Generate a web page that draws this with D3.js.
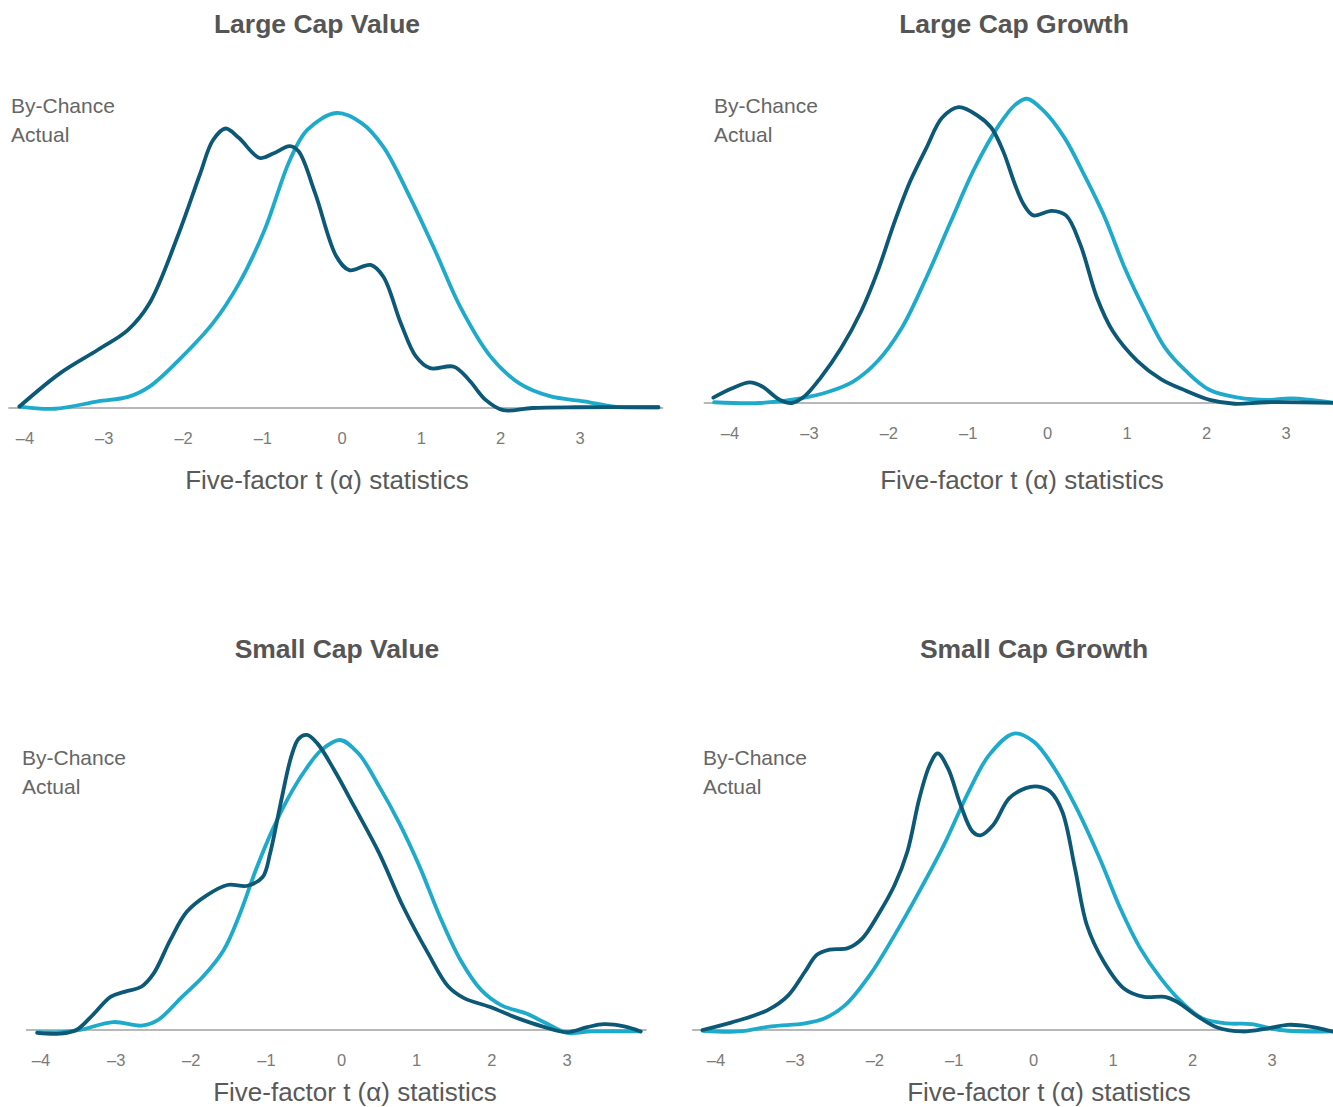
<!DOCTYPE html>
<html lang="en">
<head>
  <meta charset="UTF-8" />
  <title>Five-factor t(alpha) distributions</title>
  <style>
    body { margin: 0; background: #fff; }
    svg { display: block; }
    .title { font-family: "Liberation Sans", Arial, sans-serif; font-weight: bold; font-size: 26.5px; fill: #555; text-anchor: middle; }
    .legend { font-family: "Liberation Sans", Arial, sans-serif; font-size: 21px; fill: #666; }
    .tick { font-family: "Liberation Sans Narrow", "Liberation Sans", sans-serif; font-size: 16.5px; fill: #7a7a7a; text-anchor: middle; }
    .xtitle { font-family: "Liberation Sans Narrow", "Liberation Sans", sans-serif; font-size: 26px; fill: #595959; text-anchor: middle; }
    .baseline { stroke: #a0a0a0; stroke-width: 1.5; }
    .line { fill: none; stroke-width: 3.8; stroke-linejoin: round; stroke-linecap: round; }
  </style>
</head>
<body>
  <svg width="1333" height="1107"></svg>

  <script src="https://cdn.jsdelivr.net/npm/d3@7"></script>
  <script>
    // tick labels on every x axis
    const tickValues = [-4, -3, -2, -1, 0, 1, 2, 3];
    const panelTitles = ["Large Cap Value", "Large Cap Growth", "Small Cap Value", "Small Cap Growth"];
    const legendLabels = ["By-Chance", "Actual"];
    const xLabel = "Five-factor t (\u03b1) statistics";

    // [t statistic, density]
    const lcvChance = [[-4.07,0.002],[-3.62,-0.001],[-3.08,0.009],[-2.7,0.015],[-2.43,0.029],[-2.06,0.065],[-1.63,0.115],[-1.3,0.169],[-0.98,0.241],[-0.66,0.336],[-0.44,0.377],[-0.07,0.4],[0.25,0.386],[0.52,0.354],[0.85,0.287],[1.17,0.214],[1.49,0.137],[1.87,0.07],[2.24,0.033],[2.62,0.016],[3.05,0.009],[3.43,0.002],[3.99,0.001]];
    const lcvActual = [[-4.07,0.002],[-3.56,0.047],[-3.08,0.079],[-2.7,0.106],[-2.43,0.142],[-2.06,0.237],[-1.79,0.318],[-1.63,0.363],[-1.47,0.379],[-1.3,0.366],[-1.04,0.339],[-0.87,0.345],[-0.66,0.355],[-0.55,0.348],[-0.34,0.291],[-0.07,0.205],[0.09,0.187],[0.36,0.194],[0.52,0.178],[0.74,0.115],[0.93,0.07],[1.11,0.054],[1.41,0.056],[1.6,0.038],[1.81,0.011],[2.03,-0.003],[2.4,0],[2.94,0.001],[3.99,0.001]];

    const lcgChance = [[-4.2,0.001],[-3.62,0],[-3.11,0.006],[-2.75,0.015],[-2.45,0.028],[-2.14,0.055],[-1.84,0.098],[-1.53,0.164],[-1.22,0.238],[-0.92,0.308],[-0.61,0.365],[-0.41,0.391],[-0.26,0.399],[-0.05,0.383],[0.21,0.348],[0.46,0.299],[0.72,0.243],[0.97,0.177],[1.23,0.12],[1.48,0.072],[1.74,0.042],[2.04,0.017],[2.4,0.007],[2.76,0.004],[3.07,0.006],[3.62,0]];
    const lcgActual = [[-4.21,0.007],[-3.98,0.019],[-3.75,0.027],[-3.6,0.022],[-3.37,0.004],[-3.22,0],[-3.06,0.009],[-2.86,0.033],[-2.6,0.072],[-2.35,0.12],[-2.14,0.173],[-1.94,0.234],[-1.73,0.291],[-1.53,0.334],[-1.33,0.374],[-1.12,0.388],[-0.87,0.376],[-0.71,0.361],[-0.56,0.33],[-0.41,0.286],[-0.3,0.26],[-0.18,0.246],[0.05,0.252],[0.23,0.246],[0.41,0.208],[0.62,0.138],[0.82,0.094],[1.13,0.055],[1.43,0.031],[1.74,0.016],[2.04,0.004],[2.35,-0.001],[2.76,0.001],[3.62,0]];

    const scvChance = [[-4.05,-0.003],[-3.75,-0.003],[-3.48,0],[-3.04,0.011],[-2.66,0.006],[-2.44,0.014],[-2.12,0.046],[-1.84,0.074],[-1.57,0.11],[-1.35,0.161],[-1.14,0.221],[-0.92,0.276],[-0.7,0.322],[-0.48,0.359],[-0.27,0.386],[-0.02,0.4],[0.22,0.382],[0.5,0.336],[0.77,0.285],[1.04,0.225],[1.31,0.156],[1.58,0.097],[1.86,0.055],[2.13,0.034],[2.45,0.023],[2.73,0.009],[3.0,-0.004],[3.33,-0.002],[3.98,-0.002]];
    const scvActual = [[-4.05,-0.004],[-3.75,-0.005],[-3.53,0],[-3.31,0.021],[-3.07,0.046],[-2.88,0.053],[-2.66,0.06],[-2.5,0.078],[-2.28,0.124],[-2.06,0.163],[-1.79,0.186],[-1.52,0.2],[-1.25,0.199],[-1.05,0.211],[-0.95,0.244],[-0.81,0.313],[-0.67,0.377],[-0.57,0.402],[-0.46,0.407],[-0.32,0.395],[-0.1,0.359],[0.17,0.308],[0.5,0.244],[0.82,0.17],[1.15,0.106],[1.42,0.06],[1.63,0.044],[1.97,0.032],[2.35,0.016],[2.67,0.005],[3.0,-0.003],[3.27,0.004],[3.49,0.008],[3.76,0.005],[3.98,-0.002]];

    const scgChance = [[-4.17,-0.001],[-3.71,-0.002],[-3.3,0.005],[-2.88,0.009],[-2.63,0.016],[-2.37,0.034],[-2.06,0.075],[-1.75,0.129],[-1.44,0.188],[-1.13,0.251],[-0.82,0.323],[-0.56,0.373],[-0.25,0.402],[0.0,0.391],[0.26,0.355],[0.52,0.305],[0.83,0.233],[1.09,0.165],[1.34,0.111],[1.6,0.07],[1.86,0.038],[2.12,0.016],[2.43,0.009],[2.74,0.008],[3.1,0],[3.76,-0.002]];
    const scgActual = [[-4.17,0],[-3.81,0.01],[-3.35,0.027],[-3.09,0.047],[-2.88,0.079],[-2.73,0.102],[-2.57,0.109],[-2.34,0.111],[-2.16,0.124],[-1.96,0.156],[-1.75,0.197],[-1.59,0.242],[-1.44,0.314],[-1.31,0.359],[-1.21,0.375],[-1.08,0.355],[-0.92,0.305],[-0.77,0.269],[-0.67,0.264],[-0.51,0.278],[-0.31,0.314],[-0.1,0.328],[0.06,0.33],[0.21,0.323],[0.36,0.296],[0.52,0.219],[0.67,0.142],[0.88,0.093],[1.14,0.056],[1.39,0.045],[1.65,0.045],[1.81,0.038],[2.07,0.018],[2.32,0.003],[2.63,-0.002],[2.94,0.002],[3.2,0.007],[3.46,0.005],[3.76,-0.002]];

    const chanceSeries = [lcvChance, lcgChance, scvChance, scgChance];
    const actualSeries = [lcvActual, lcgActual, scvActual, scgActual];

    const colChance = "#1eaacb";
    const colActual = "#0c5877";

    // layout of each panel (pixel positions)
    const panels = [
      { xr: [25, 580], base: 408, h: 295, axis: [-4.21, 4.05], title: [317, 24], legend: [11, 106], xt: [327, 480] },
      { xr: [730, 1286], base: 403, h: 305, axis: [-4.33, 3.7], title: [1014, 24], legend: [714, 106], xt: [1022, 480] },
      { xr: [41, 567], base: 1030, h: 290, axis: [-4.2, 4.06], title: [337, 649], legend: [22, 758], xt: [355, 1092] },
      { xr: [716, 1272], base: 1030, h: 295, axis: [-4.3, 3.8], title: [1034, 649], legend: [703, 758], xt: [1049, 1092] }
    ];

    const svg = d3.select("svg");
    const fmt = v => (v < 0 ? "\u2013" + Math.abs(v) : String(v));

    panels.forEach((p, i) => {
      const x = d3.scaleLinear().domain([-4, 3]).range(p.xr);
      const y = d3.scaleLinear().domain([0, 0.4]).range([p.base, p.base - p.h]);
      const g = svg.append("g");

      g.append("text").attr("class", "title")
        .attr("x", p.title[0]).attr("y", p.title[1]).attr("dy", "0.35em")
        .text(panelTitles[i]);

      g.append("line").attr("class", "baseline")
        .attr("x1", x(p.axis[0])).attr("x2", x(p.axis[1]))
        .attr("y1", y(0)).attr("y2", y(0));

      g.selectAll(".tick").data(tickValues).join("text")
        .attr("class", "tick")
        .attr("x", d => x(d)).attr("y", p.base + 30).attr("dy", "0.35em")
        .text(fmt);

      g.append("text").attr("class", "xtitle")
        .attr("x", p.xt[0]).attr("y", p.xt[1]).attr("dy", "0.35em")
        .text(xLabel);

      g.selectAll(".legend").data(legendLabels).join("text")
        .attr("class", "legend")
        .attr("x", p.legend[0]).attr("y", (d, j) => p.legend[1] + j * 29).attr("dy", "0.35em")
        .text(d => d);

      const line = d3.line()
        .x(d => x(d[0])).y(d => y(d[1]))
        .curve(d3.curveCatmullRom.alpha(0.5));

      g.append("path").attr("class", "line").attr("stroke", colChance)
        .attr("d", line(chanceSeries[i]));
      g.append("path").attr("class", "line").attr("stroke", colActual)
        .attr("d", line(actualSeries[i]));
    });
  </script>
</body>
</html>
